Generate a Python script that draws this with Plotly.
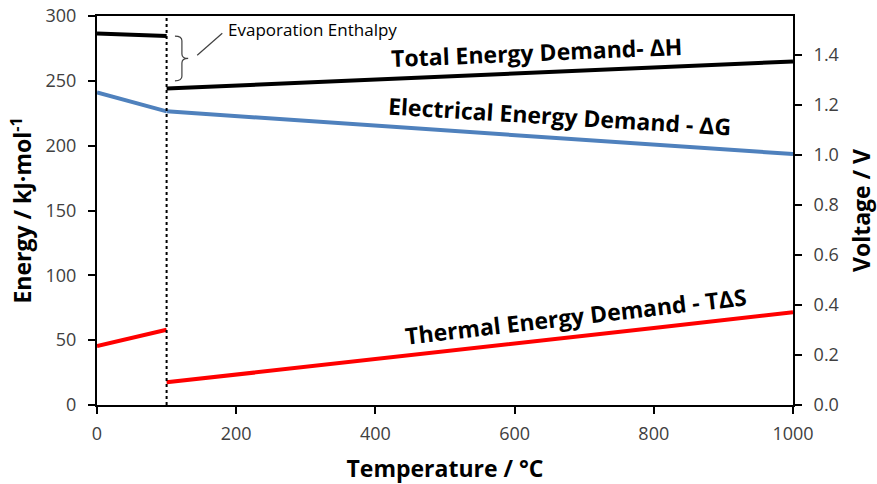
import plotly.graph_objects as go

# Water electrolysis energy demand vs temperature (liquid below 100 °C, steam above)
temp_liquid = [0, 25, 50, 75, 100]
dH_liquid = [286.5, 286.0, 285.5, 285.0, 284.5]
dG_liquid = [241.0, 237.2, 233.4, 229.8, 226.5]
TdS_liquid = [45.5, 48.8, 52.1, 55.2, 58.0]

temp_steam = [100, 200, 400, 600, 800, 1000]
dH_steam = [244.0, 246.3, 250.8, 255.6, 260.3, 265.0]
dG_steam = [226.5, 222.9, 215.6, 208.3, 201.0, 193.5]
TdS_steam = [17.5, 23.4, 35.2, 47.3, 59.3, 71.5]

phase_change_temp = 100
faraday_2F = 192.97  # kJ/mol per volt (2F)
energy_range = [0, 300]

x_ticks = [0, 200, 400, 600, 800, 1000]
y_ticks = [0, 50, 100, 150, 200, 250, 300]
v_ticks = [0.0, 0.2, 0.4, 0.6, 0.8, 1.0, 1.2, 1.4]

BLACK = "#000000"
BLUE = "#4f81bd"
RED = "#ff0000"
TICK_FONT = dict(family="Open Sans", size=18, color="#404040")
TITLE_FONT = dict(family="Open Sans", size=23, color="#000000", weight="bold")

fig = go.Figure()

for xs, ys, col in [
    (temp_liquid, dH_liquid, BLACK),
    (temp_steam, dH_steam, BLACK),
    (temp_liquid, dG_liquid, BLUE),
    (temp_steam, dG_steam, BLUE),
    (temp_liquid, TdS_liquid, RED),
    (temp_steam, TdS_steam, RED),
]:
    fig.add_trace(go.Scatter(x=xs, y=ys, mode="lines",
                             line=dict(color=col, width=4),
                             showlegend=False, hoverinfo="skip"))

# same curve expressed as voltage, on the secondary axis
fig.add_trace(go.Scatter(x=temp_steam, y=[v / faraday_2F for v in dG_steam],
                         yaxis="y2", mode="lines", line=dict(width=0),
                         opacity=0, showlegend=False, hoverinfo="skip"))

# boiling point marker
fig.add_shape(type="line", xref="x", yref="paper",
              x0=phase_change_temp, x1=phase_change_temp, y0=0, y1=1,
              line=dict(color=BLACK, width=2, dash="dot"))

# brace spanning the evaporation enthalpy gap
top, bot = dH_liquid[-1], 250
mid = (top + bot) / 2
bx0, bx1, bx2 = phase_change_temp + 12, phase_change_temp + 22, phase_change_temp + 31
brace = (f"M {bx0},{top} Q {bx1},{top} {bx1},{top-3.5} L {bx1},{mid+3.5} "
         f"Q {bx1},{mid} {bx2},{mid} Q {bx1},{mid} {bx1},{mid-3.5} "
         f"L {bx1},{bot+3.5} Q {bx1},{bot} {bx0},{bot}")
fig.add_shape(type="path", xref="x", yref="y", path=brace,
              line=dict(color="#404040", width=1.2))
fig.add_shape(type="line", xref="x", yref="y",
              x0=bx2 + 13, y0=mid + 2.5, x1=bx2 + 49, y1=mid + 19.5,
              line=dict(color="#404040", width=1.2))
fig.add_annotation(x=bx2 + 55, y=mid + 22, xref="x", yref="y",
                   text="Evaporation Enthalpy", showarrow=False,
                   xanchor="left", yanchor="middle",
                   font=dict(family="Open Sans", size=17, color=BLACK))

LABEL_FONT = dict(family="Open Sans", size=23, color=BLACK, weight="bold")
fig.add_annotation(x=632, y=272, xref="x", yref="y",
                   text="Total Energy Demand- ΔH", showarrow=False,
                   textangle=-2.4, font=LABEL_FONT)
fig.add_annotation(x=665, y=223, xref="x", yref="y",
                   text="Electrical Energy Demand - ΔG", showarrow=False,
                   textangle=3.5, font=LABEL_FONT)
fig.add_annotation(x=688, y=69, xref="x", yref="y",
                   text="Thermal Energy Demand - TΔS", showarrow=False,
                   textangle=-6.6, font=LABEL_FONT)

fig.update_layout(
    width=877, height=484,
    margin=dict(l=97, r=84, t=16, b=79),
    paper_bgcolor="white", plot_bgcolor="white",
    xaxis=dict(range=[0, 1000], tickvals=x_ticks, ticks="outside",
               ticklen=7, tickwidth=1.5, tickcolor=BLACK, ticklabelstandoff=4,
               showline=True, linecolor=BLACK, linewidth=2, mirror=True,
               showgrid=False, zeroline=False, tickfont=TICK_FONT,
               automargin=False,
               title=dict(text="Temperature / °C", font=TITLE_FONT, standoff=23)),
    yaxis=dict(range=energy_range, tickvals=y_ticks, ticks="outside",
               ticklen=7, tickwidth=1.5, tickcolor=BLACK, ticklabelstandoff=8,
               showline=True, linecolor=BLACK, linewidth=2,
               showgrid=False, zeroline=False, tickfont=TICK_FONT,
               automargin=False,
               title=dict(text="Energy / kJ·mol<sup>-1</sup>", font=TITLE_FONT,
                          standoff=7)),
    yaxis2=dict(range=[energy_range[0] / faraday_2F, energy_range[1] / faraday_2F],
                overlaying="y", side="right", tickvals=v_ticks,
                tickformat=".1f", ticks="outside", ticklen=7, tickwidth=1.5,
                tickcolor=BLACK, ticklabelstandoff=8,
                showline=True, linecolor=BLACK, linewidth=2,
                showgrid=False, zeroline=False, tickfont=TICK_FONT,
                automargin=False,
                title=dict(text="Voltage / V", font=TITLE_FONT, standoff=19)),
)

fig.write_html("out.html")
